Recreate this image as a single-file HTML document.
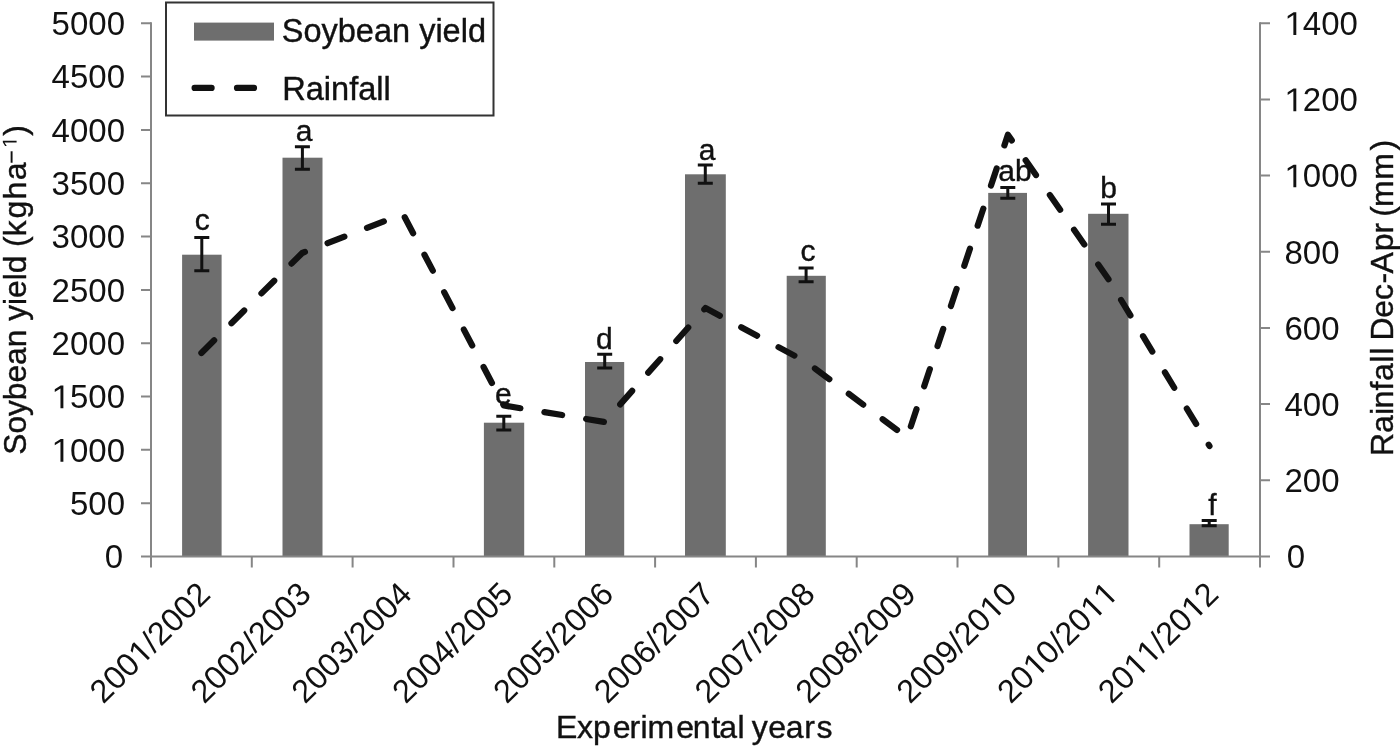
<!DOCTYPE html>
<html><head><meta charset="utf-8"><style>html,body{margin:0;padding:0;background:#fff;width:1400px;height:746px;overflow:hidden}text{stroke:#111;stroke-width:0.4px}text.n{stroke:none}</style></head><body>
<svg width="1400" height="746" viewBox="0 0 1400 746" style="position:absolute;left:0;top:0;will-change:transform" font-family="Liberation Sans">
<rect x="182.1" y="254.7" width="39.5" height="301.8" fill="#6e6e6e"/>
<rect x="282.5" y="157.7" width="40.0" height="398.8" fill="#6e6e6e"/>
<rect x="483.9" y="422.7" width="40.3" height="133.8" fill="#6e6e6e"/>
<rect x="585.0" y="362.0" width="39.2" height="194.5" fill="#6e6e6e"/>
<rect x="685.0" y="174.3" width="40.8" height="382.2" fill="#6e6e6e"/>
<rect x="786.7" y="275.8" width="39.1" height="280.7" fill="#6e6e6e"/>
<rect x="988.2" y="192.9" width="38.8" height="363.6" fill="#6e6e6e"/>
<rect x="1088.1" y="213.8" width="40.4" height="342.7" fill="#6e6e6e"/>
<rect x="1189.5" y="524.2" width="39.2" height="32.3" fill="#6e6e6e"/>
<g stroke="#868686" stroke-width="2" fill="none">
<path d="M151.0 22.2V567.5M1260.0 22.2V567.5M141.0 556.5H1270.0"/>
<path d="M141.0 503.2H151.0M141.0 449.8H151.0M141.0 396.5H151.0M141.0 343.2H151.0M141.0 289.9H151.0M141.0 236.5H151.0M141.0 183.2H151.0M141.0 129.9H151.0M141.0 76.5H151.0M141.0 23.2H151.0M1260.0 480.3H1270.0M1260.0 404.1H1270.0M1260.0 327.9H1270.0M1260.0 251.8H1270.0M1260.0 175.6H1270.0M1260.0 99.4H1270.0M1260.0 23.2H1270.0M251.8 556.5V567.5M352.6 556.5V567.5M453.5 556.5V567.5M554.3 556.5V567.5M655.1 556.5V567.5M755.9 556.5V567.5M856.7 556.5V567.5M957.5 556.5V567.5M1058.4 556.5V567.5M1159.2 556.5V567.5"/>
</g>
<path d="M201.8 237.5V270.7M194.3 237.5H209.3M194.3 270.7H209.3M302.4 146.8V169.3M294.9 146.8H309.9M294.9 169.3H309.9M503.8 416.3V429.9M496.3 416.3H511.3M496.3 429.9H511.3M604.7 354.2V367.9M597.2 354.2H612.2M597.2 367.9H612.2M705.3 164.9V183.3M697.8 164.9H712.8M697.8 183.3H712.8M806.1 267.9V281.7M798.6 267.9H813.6M798.6 281.7H813.6M1007.8 187.5V198.2M1000.3 187.5H1015.3M1000.3 198.2H1015.3M1108.5 204.1V224.2M1101.0 204.1H1116.0M1101.0 224.2H1116.0M1209.2 520.6V525.8M1201.7 520.6H1216.7M1201.7 525.8H1216.7" stroke="#111" stroke-width="3" fill="none"/>
<polyline points="201.4,353.0 302.2,253.0 403.0,214.0 503.8,405.5 604.6,422.0 705.5,308.0 806.3,362.0 907.1,437.5 1007.9,134.8 1108.7,279.5 1209.5,446.0" fill="none" stroke="#111" stroke-width="6.2" stroke-linecap="round" stroke-linejoin="round" stroke-dasharray="18 24.3"/>
<text x="202.2" y="229.8" font-size="30" text-anchor="middle" fill="#111">c</text>
<text x="304.0" y="140.8" font-size="30" text-anchor="middle" fill="#111">a</text>
<text x="503.3" y="403.9" font-size="30" text-anchor="middle" fill="#111">e</text>
<text x="604.3" y="349.2" font-size="30" text-anchor="middle" fill="#111">d</text>
<text x="707.0" y="159.8" font-size="30" text-anchor="middle" fill="#111">a</text>
<text x="808.0" y="261.3" font-size="30" text-anchor="middle" fill="#111">c</text>
<text x="1015.0" y="181.2" font-size="30" text-anchor="middle" fill="#111">ab</text>
<text x="1108.5" y="197.5" font-size="30" text-anchor="middle" fill="#111">b</text>
<text x="1212.5" y="514.6" font-size="30" text-anchor="middle" fill="#111">f</text>
<text class="n" x="123.1" y="568.3" font-size="33" text-anchor="end" fill="#111">0</text>

<text class="n" x="125" y="515.0" font-size="33" text-anchor="end" fill="#111">500</text>

<text class="n" x="125" y="461.6" font-size="33" text-anchor="end" fill="#111"> 000</text>
<path transform="translate(0 461.64) translate(51.59 0.00) scale(0.01611 -0.01611)" d="M551 0L551 1237L197 1010L197 1180L566 1409L732 1409L732 0Z" fill="#111"/>
<text class="n" x="125" y="408.3" font-size="33" text-anchor="end" fill="#111"> 500</text>
<path transform="translate(0 408.31) translate(51.59 0.00) scale(0.01611 -0.01611)" d="M551 0L551 1237L197 1010L197 1180L566 1409L732 1409L732 0Z" fill="#111"/>
<text class="n" x="125" y="355.0" font-size="33" text-anchor="end" fill="#111">2000</text>

<text class="n" x="125" y="301.7" font-size="33" text-anchor="end" fill="#111">2500</text>

<text class="n" x="125" y="248.3" font-size="33" text-anchor="end" fill="#111">3000</text>

<text class="n" x="125" y="195.0" font-size="33" text-anchor="end" fill="#111">3500</text>

<text class="n" x="125" y="141.7" font-size="33" text-anchor="end" fill="#111">4000</text>

<text class="n" x="125" y="88.3" font-size="33" text-anchor="end" fill="#111">4500</text>

<text class="n" x="125" y="35.0" font-size="33" text-anchor="end" fill="#111">5000</text>

<text class="n" x="1286.7" y="568.3" font-size="33" fill="#111">0</text>

<text class="n" x="1284.5" y="492.1" font-size="33" fill="#111">200</text>

<text class="n" x="1284.5" y="415.9" font-size="33" fill="#111">400</text>

<text class="n" x="1284.5" y="339.7" font-size="33" fill="#111">600</text>

<text class="n" x="1284.5" y="263.6" font-size="33" fill="#111">800</text>

<text class="n" x="1284.5" y="187.4" font-size="33" fill="#111"> 000</text>
<path transform="translate(0 187.37) translate(1284.50 0.00) scale(0.01611 -0.01611)" d="M551 0L551 1237L197 1010L197 1180L566 1409L732 1409L732 0Z" fill="#111"/>
<text class="n" x="1284.5" y="111.2" font-size="33" fill="#111"> 200</text>
<path transform="translate(0 111.19) translate(1284.50 0.00) scale(0.01611 -0.01611)" d="M551 0L551 1237L197 1010L197 1180L566 1409L732 1409L732 0Z" fill="#111"/>
<text class="n" x="1284.5" y="35.0" font-size="33" fill="#111"> 400</text>
<path transform="translate(0 35.00) translate(1284.50 0.00) scale(0.01611 -0.01611)" d="M551 0L551 1237L197 1010L197 1180L566 1409L732 1409L732 0Z" fill="#111"/>
<text class="n" transform="translate(212.0 596) rotate(-45)" font-size="32.5" text-anchor="end" fill="#111">200 /2002</text>
<path transform="translate(212.0 596) rotate(-45) translate(-99.40 0.00) scale(0.01587 -0.01587)" d="M551 0L551 1237L197 1010L197 1180L566 1409L732 1409L732 0Z" fill="#111"/>
<text class="n" transform="translate(312.8 596) rotate(-45)" font-size="32.5" text-anchor="end" fill="#111">2002/2003</text>

<text class="n" transform="translate(413.6 596) rotate(-45)" font-size="32.5" text-anchor="end" fill="#111">2003/2004</text>

<text class="n" transform="translate(514.5 596) rotate(-45)" font-size="32.5" text-anchor="end" fill="#111">2004/2005</text>

<text class="n" transform="translate(615.3 596) rotate(-45)" font-size="32.5" text-anchor="end" fill="#111">2005/2006</text>

<text class="n" transform="translate(716.1 596) rotate(-45)" font-size="32.5" text-anchor="end" fill="#111">2006/2007</text>

<text class="n" transform="translate(816.9 596) rotate(-45)" font-size="32.5" text-anchor="end" fill="#111">2007/2008</text>

<text class="n" transform="translate(917.7 596) rotate(-45)" font-size="32.5" text-anchor="end" fill="#111">2008/2009</text>

<text class="n" transform="translate(1018.6 596) rotate(-45)" font-size="32.5" text-anchor="end" fill="#111">2009/20 0</text>
<path transform="translate(1018.6 596) rotate(-45) translate(-36.15 0.00) scale(0.01587 -0.01587)" d="M551 0L551 1237L197 1010L197 1180L566 1409L732 1409L732 0Z" fill="#111"/>
<text class="n" transform="translate(1119.4 596) rotate(-45)" font-size="32.5" text-anchor="end" fill="#111">20 0/20  </text>
<path transform="translate(1119.4 596) rotate(-45) translate(-117.48 0.00) scale(0.01587 -0.01587)" d="M551 0L551 1237L197 1010L197 1180L566 1409L732 1409L732 0Z" fill="#111"/><path transform="translate(1119.4 596) rotate(-45) translate(-36.15 0.00) scale(0.01587 -0.01587)" d="M551 0L551 1237L197 1010L197 1180L566 1409L732 1409L732 0Z" fill="#111"/><path transform="translate(1119.4 596) rotate(-45) translate(-18.07 0.00) scale(0.01587 -0.01587)" d="M551 0L551 1237L197 1010L197 1180L566 1409L732 1409L732 0Z" fill="#111"/>
<text class="n" transform="translate(1220.2 596) rotate(-45)" font-size="32.5" text-anchor="end" fill="#111">20  /20 2</text>
<path transform="translate(1220.2 596) rotate(-45) translate(-117.48 0.00) scale(0.01587 -0.01587)" d="M551 0L551 1237L197 1010L197 1180L566 1409L732 1409L732 0Z" fill="#111"/><path transform="translate(1220.2 596) rotate(-45) translate(-99.40 0.00) scale(0.01587 -0.01587)" d="M551 0L551 1237L197 1010L197 1180L566 1409L732 1409L732 0Z" fill="#111"/><path transform="translate(1220.2 596) rotate(-45) translate(-36.15 0.00) scale(0.01587 -0.01587)" d="M551 0L551 1237L197 1010L197 1180L566 1409L732 1409L732 0Z" fill="#111"/>
<text x="556.10 576.94 592.99 612.68 629.62 640.60 647.56 676.13 692.78 711.43 719.27 737.59 744.70 751.69 768.28 785.87 804.17 816.43" y="737.6" font-size="32" fill="#111">Experimental years</text>
<text transform="translate(26.3 0) rotate(-90)" font-size="32" fill="#111"><tspan x="-454.75" font-size="31.7">Soybean yield</tspan><tspan x="-246.98 -236.46 -218.54 -199.42 -180.36">(kgha</tspan><tspan font-size="20" dy="-9.7" x="-162.4">–</tspan><tspan dy="9.7" x="-135.87">)</tspan></text>
<path transform="translate(26.3 0) rotate(-90) translate(-147.80 -9.70) scale(0.00977 -0.00977)" d="M551 0L551 1237L197 1010L197 1180L566 1409L732 1409L732 0Z" fill="#111"/>
<text transform="translate(1392.6 0) rotate(-90)" x="-456.02 -432.98 -414.90 -408.52 -390.50 -380.98 -362.76 -354.71 -347.60 -340.40 -317.72 -299.91 -283.53 -273.42 -251.21 -233.62 -222.97 -216.63 -207.09 -179.69 -150.43" font-size="32" fill="#111">Rainfall Dec-Apr (mm)</text>
<rect x="166" y="2.5" width="327.5" height="113" fill="#fff" stroke="#333" stroke-width="2"/>
<rect x="194" y="22.6" width="80" height="18" fill="#6e6e6e"/>
<path d="M194.6 87.9H211.6M237 87.9H254" stroke="#111" stroke-width="6.2" stroke-linecap="round"/>
<text x="281.8" y="42.1" font-size="32.5" fill="#111">Soybean yield</text>
<text x="282.2" y="99.9" font-size="32.6" fill="#111">Rainfall</text>
</svg>
</body></html>
